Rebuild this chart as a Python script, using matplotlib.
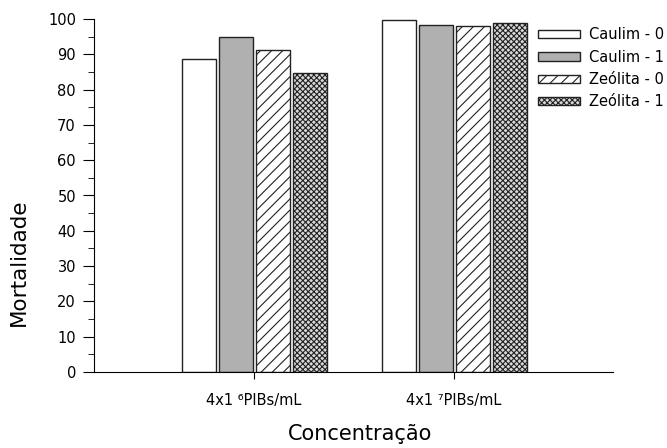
import numpy as np
import matplotlib.pyplot as plt
from matplotlib.ticker import MultipleLocator

plt.rcParams['font.family'] = ['DejaVu Sans']
plt.rcParams['hatch.linewidth'] = 0.8

groups = ['4x1 \u2076PIBs/mL', '4x1 \u2077PIBs/mL']
series = ['Caulim - 0', 'Caulim - 1', 'Zeólita - 0', 'Zeólita - 1']
caulim_0 = [88.7, 99.6]
caulim_1 = [94.9, 98.4]
zeolita_0 = [91.1, 98.0]
zeolita_1 = [84.6, 98.9]

values = [caulim_0, caulim_1, zeolita_0, zeolita_1]
faces = ['white', '#b0b0b0', 'white', '#d8d8d8']
hatches = [None, None, '///', 'xxxxxx']

fig = plt.figure(figsize=(6.67, 4.48), dpi=100)
ax = fig.add_axes([94 / 667, 76 / 448, (613 - 94) / 667, (372 - 19) / 448])

x = np.arange(len(groups))
w = 0.17
step = 0.185
for i, (vals, fc, h, lab) in enumerate(zip(values, faces, hatches, series)):
    ax.bar(x + (i - 1.5) * step, vals, w, color=fc, edgecolor='#222222',
           hatch=h, linewidth=1, label=lab)

ax.set_xlim(-0.8, 1.795)
ax.set_ylim(0, 100)
ax.set_xticks(x)
ax.set_xticklabels(groups, fontsize=10.5)
ax.yaxis.set_major_locator(MultipleLocator(10))
ax.yaxis.set_minor_locator(MultipleLocator(5))
ax.tick_params(axis='y', which='major', length=8, labelsize=10.5, pad=5)
ax.tick_params(axis='y', which='minor', length=4)
ax.tick_params(axis='x', length=5, pad=10)

for s in ['top', 'right']:
    ax.spines[s].set_visible(False)

ax.set_ylabel('Mortalidade', fontsize=15.5)
ax.yaxis.set_label_coords(-0.125, 0.31)
ax.set_xlabel('Concentração', fontsize=15)
ax.xaxis.set_label_coords(0.513, -0.148)

ax.legend(loc='upper left', bbox_to_anchor=(0.855, 0.976), frameon=False,
          fontsize=10.5, handlelength=2.9, handleheight=0.5, labelspacing=0.5,
          handletextpad=0.6, borderpad=0, borderaxespad=0)

fig.savefig('out.png', dpi=100)
